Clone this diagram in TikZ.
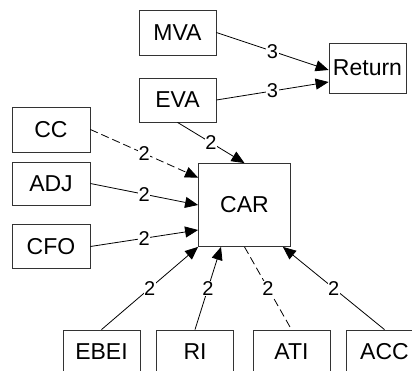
\documentclass[tikz,border=0pt]{standalone}
\usepackage{fontspec}
\setmainfont{Liberation Sans}
\usetikzlibrary{arrows.meta}
\begin{document}
\begin{tikzpicture}[x=1pt, y=-1pt,
  box/.style={draw=black!80, line width=0.8pt, inner sep=0pt, minimum width=77pt, minimum height=44pt, font=\fontsize{23}{26}\selectfont},
  lbl/.style={fill=white, inner sep=0.5pt, font=\fontsize{20}{22}\selectfont},
  arr/.style={line width=0.8pt, -{Triangle[length=13pt, width=11pt]}},
  dsh/.style={line width=0.8pt, dash pattern=on 8pt off 4pt}]
\clip (0,0) rectangle (412,371);
\node[box, minimum height=45pt] (mva) at (177.5,32.5){MVA};
\node[box, minimum height=50pt] (ret) at (367.5,68){Return};
\node[box] (eva) at (177.5,100){EVA};
\node[box, minimum width=78pt, minimum height=45pt] (cc) at (51,129.5){CC};
\node[box, minimum width=78pt, minimum height=43pt] (adj) at (51,183.5){ADJ};
\node[box, minimum width=78pt] (cfo) at (51,246.5){CFO};
\node[box, minimum width=92pt, minimum height=83pt] (car) at (244.5,205){CAR};
\node[box] (ebei) at (101.5,352){EBEI};
\node[box] (ri) at (195,352){RI};
\node[box] (ati) at (291.5,352){ATI};
\node[box] (acc) at (384.5,352){ACC};
\draw[arr](mva.east) -- node[lbl]{3} ([yshift=-2pt]ret.west);
\draw[arr](eva.east) -- node[lbl]{3} ([yshift=-14pt]ret.west);
\draw[arr](eva.south) -- node[lbl]{2} (car.north);
\draw[arr, dsh](cc.east) -- node[lbl]{2} ([yshift=-14.5pt]car.north west);
\draw[arr](adj.east) -- node[lbl]{2} (car.west);
\draw[arr](cfo.east) -- node[lbl]{2} ([yshift=-25pt]car.west);
\draw[arr](ebei.north) -- node[lbl]{2} (car.south west);
\draw[arr](ri.north) -- node[lbl]{2} ([xshift=-23.5pt]car.south);
\draw[dsh](car.south) -- node[lbl]{2} (ati.north);
\draw[arr](acc.north) -- node[lbl]{2} ([xshift=-8pt]car.south east);
\end{tikzpicture}
\end{document}
